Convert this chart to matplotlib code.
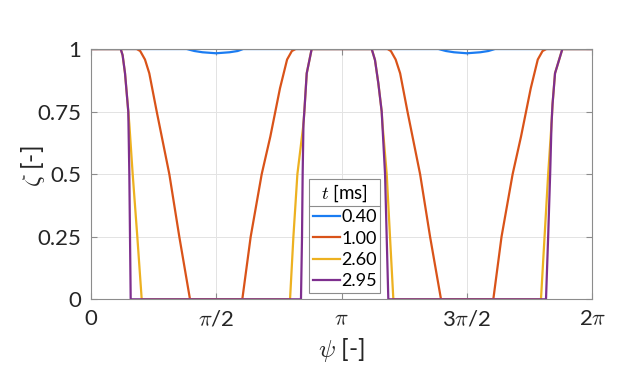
import numpy as np
import matplotlib
matplotlib.use('Agg')
import matplotlib.pyplot as plt
from matplotlib.lines import Line2D

plt.rcParams['font.family'] = ['Lato', 'DejaVu Sans']
plt.rcParams['mathtext.fontset'] = 'cm'

# ψ in rad, ζ [-]
psi_040 = [0.0, 1.202, 1.30, 1.40, 1.571, 1.74, 1.84, 1.911,
           4.355, 4.45, 4.55, 4.712, 4.88, 4.98, 5.065, 6.2832]
zeta_040 = [1.0, 1.0, 0.992, 0.987, 0.983, 0.987, 0.992, 1.0,
            1.0, 0.992, 0.987, 0.983, 0.987, 0.992, 1.0, 1.0]

psi_100 = [0.0, 0.576, 0.62, 0.68, 0.734, 0.827, 0.985, 1.110, 1.244,
           1.899, 2.004, 2.142, 2.25, 2.371, 2.46, 2.52, 2.568,
           3.717, 3.76, 3.82, 3.876, 3.968, 4.126, 4.251, 4.388,
           5.043, 5.146, 5.285, 5.39, 5.512, 5.60, 5.66, 5.708, 6.2832]
zeta_100 = [1.0, 1.0, 0.992, 0.958, 0.903, 0.75, 0.5, 0.25, 0.0,
            0.0, 0.25, 0.5, 0.65, 0.843, 0.958, 0.992, 1.0,
            1.0, 0.992, 0.958, 0.903, 0.75, 0.5, 0.25, 0.0,
            0.0, 0.25, 0.5, 0.65, 0.843, 0.958, 0.992, 1.0, 1.0]

psi_260 = [0.0, 0.376, 0.40, 0.430, 0.471, 0.484, 0.526, 0.584, 0.639,
           2.497, 2.539, 2.589, 2.665, 2.676, 2.706, 2.768,
           3.520, 3.561, 3.603, 3.645, 3.655, 3.708, 3.749, 3.791,
           5.640, 5.685, 5.730, 5.772, 5.785, 5.816, 5.908, 6.2832]
zeta_260 = [1.0, 1.0, 0.975, 0.903, 0.75, 0.70, 0.5, 0.25, 0.0,
            0.0, 0.25, 0.5, 0.70, 0.75, 0.903, 1.0,
            1.0, 0.956, 0.863, 0.75, 0.70, 0.5, 0.25, 0.0,
            0.0, 0.25, 0.5, 0.70, 0.78, 0.903, 1.0, 1.0]

psi_295 = [0.0, 0.376, 0.40, 0.430, 0.471, 0.484, 0.501,
           2.634, 2.647, 2.655, 2.665, 2.676, 2.706, 2.768,
           3.520, 3.561, 3.603, 3.645, 3.687, 3.728,
           5.703, 5.730, 5.755, 5.772, 5.785, 5.816, 5.908, 6.2832]
zeta_295 = [1.0, 1.0, 0.975, 0.903, 0.75, 0.5, 0.0,
            0.0, 0.25, 0.5, 0.70, 0.75, 0.903, 1.0,
            1.0, 0.956, 0.863, 0.75, 0.5, 0.0,
            0.0, 0.25, 0.5, 0.70, 0.78, 0.903, 1.0, 1.0]

series = [
    (psi_040, zeta_040, '0.40', '#1a7cf2'),
    (psi_100, zeta_100, '1.00', '#D95319'),
    (psi_260, zeta_260, '2.60', '#EDB120'),
    (psi_295, zeta_295, '2.95', '#7E2F8E'),
]

xticks = [0, np.pi / 2, np.pi, 3 * np.pi / 2, 2 * np.pi]
xticklabels = ['0', r'$\pi$/2', r'$\pi$', r'3$\pi$/2', r'2$\pi$']
yticks = [0, 0.25, 0.5, 0.75, 1]
yticklabels = ['0', '0.25', '0.5', '0.75', '1']

fig = plt.figure(figsize=(6.4, 3.77), dpi=100)
ax = fig.add_axes([0.1417, 0.2061, 0.7838, 0.6639])

for psi, zeta, lab, col in series:
    ax.plot(psi, zeta, color=col, lw=1.6, label=lab)

ax.set_xlim(0, 2 * np.pi)
ax.set_ylim(0, 1)
ax.set_xticks(xticks)
ax.set_xticklabels(xticklabels)
ax.set_yticks(yticks)
ax.set_yticklabels(yticklabels)
ax.grid(True, color='#e3e3e3', lw=0.7)
ax.set_axisbelow(True)
for s in ax.spines.values():
    s.set_color('#8c8c8c')
    s.set_linewidth(0.8)
ax.tick_params(direction='in', length=4, width=0.8, color='#8c8c8c',
               top=True, right=True, labelsize=16, labelcolor='#262626', pad=7)
ax.set_xlabel(r'$\psi$ [-]', fontsize=18, color='#262626', labelpad=5)
ax.set_ylabel(r'$\zeta$ [-]', fontsize=18, color='#262626')
ax.yaxis.set_label_coords(-0.088, 0.53)

leg = ax.legend(title=r'$t$ [ms]', loc='lower left',
                bbox_to_anchor=(309.3 / 640, (377 - 292.7) / 377),
                bbox_transform=fig.transFigure, borderaxespad=0,
                fontsize=13, title_fontsize=13.5, fancybox=False,
                edgecolor='#8c8c8c', framealpha=1, handlelength=1.5,
                handletextpad=0.08, labelspacing=0.3, borderpad=0.18)
leg.get_frame().set_linewidth(0.8)

# separator line between legend title and entries
fig.canvas.draw()
fb = leg.get_frame().get_window_extent()
tb = leg.get_title().get_window_extent()
eb = leg.get_texts()[0].get_window_extent()
inv = fig.transFigure.inverted()
ysep = 0.5 * (tb.y0 + eb.y1)
x0, y0 = inv.transform((fb.x0, ysep))
x1, _ = inv.transform((fb.x1, ysep))
fig.add_artist(Line2D([x0, x1], [y0, y0], color='#8c8c8c', lw=0.8,
                      transform=fig.transFigure))

fig.savefig('out.png', dpi=100)
